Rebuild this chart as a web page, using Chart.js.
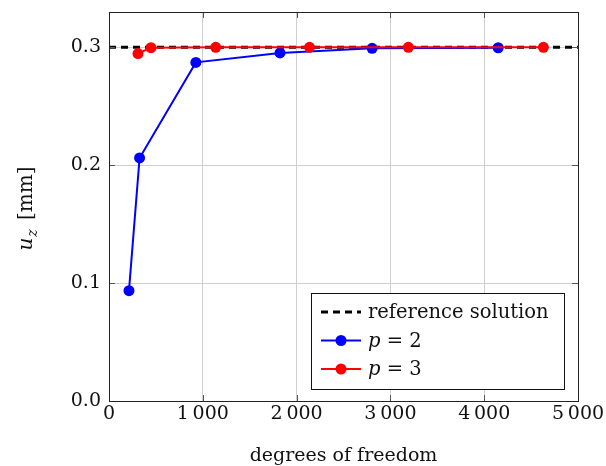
<!DOCTYPE html>
<html>
<head>
<meta charset="utf-8">
<script src="https://cdn.jsdelivr.net/npm/chart.js@4/dist/chart.umd.min.js"></script>
<style>
  html, body { margin: 0; padding: 0; background: #fff; }
  canvas { display: block; }
</style>
</head>
<body>
<canvas id="myChart" width="606" height="466"></canvas>
<script>
// data
var dofP2 = [213, 326, 926, 1823, 2805, 4149];
var uzP2  = [0.0935, 0.206, 0.287, 0.295, 0.2989, 0.2994];
var dofP3 = [309, 447, 1138, 2138, 3191, 4631];
var uzP3  = [0.2945, 0.2995, 0.2998, 0.2998, 0.2998, 0.2998];
var refX  = [0, 5000];
var refY  = [0.2998, 0.2998];

var xTicks = [0, 1000, 2000, 3000, 4000, 5000];
var yTicks = [0, 0.1, 0.2, 0.3];
var seriesLabels = ['reference solution', 'p = 2', 'p = 3'];

var serif = '"DejaVu Serif", serif';

function toPoints(xs, ys) {
  return xs.map(function (x, i) { return { x: x, y: ys[i] }; });
}

// splits "p = 2" so the variable can be set in italics
function labelParts(s) {
  var m = s.match(/^([a-z]) (=.*)$/);
  if (m) return [{ t: m[1], it: true }, { t: ' ' + m[2] }];
  return [{ t: s }];
}

function drawParts(ctx, parts, x, y, size) {
  parts.forEach(function (p) {
    ctx.font = (p.it ? 'italic ' : '') + size + 'px ' + serif;
    ctx.fillText(p.t, x, y);
    x += ctx.measureText(p.t).width;
  });
}

// frame, inner tick marks, axis titles
var framePlugin = {
  id: 'frame',
  afterDatasetsDraw: function (chart) {
    var ctx = chart.ctx, a = chart.chartArea;
    var xs = chart.scales.x, ys = chart.scales.y;
    ctx.save();
    ctx.strokeStyle = '#555';
    ctx.lineWidth = 1;
    ctx.beginPath();
    xTicks.forEach(function (v) {
      var px = Math.round(xs.getPixelForValue(v)) + 0.5;
      ctx.moveTo(px, a.bottom); ctx.lineTo(px, a.bottom - 6);
      ctx.moveTo(px, a.top); ctx.lineTo(px, a.top + 6);
    });
    yTicks.forEach(function (v) {
      var py = Math.round(ys.getPixelForValue(v)) + 0.5;
      ctx.moveTo(a.left, py); ctx.lineTo(a.left + 6, py);
      ctx.moveTo(a.right, py); ctx.lineTo(a.right - 6, py);
    });
    ctx.stroke();
    ctx.strokeStyle = '#222';
    ctx.strokeRect(Math.round(a.left) + 0.5, Math.round(a.top) + 0.5,
                   Math.round(a.right - a.left), Math.round(a.bottom - a.top));
    ctx.restore();
  },
  afterDraw: function (chart) {
    var ctx = chart.ctx, a = chart.chartArea;
    ctx.save();
    ctx.fillStyle = '#111';
    ctx.textBaseline = 'alphabetic';
    // x title
    ctx.font = '19px ' + serif;
    ctx.textAlign = 'center';
    ctx.fillText('degrees of freedom', (a.left + a.right) / 2, 461);
    // y title  u_z [mm]
    ctx.translate(32, (a.top + a.bottom) / 2 + 2);
    ctx.rotate(-Math.PI / 2);
    ctx.textAlign = 'left';
    ctx.font = 'italic 20px ' + serif;
    var w1 = ctx.measureText('u').width;
    ctx.font = 'italic 14px ' + serif;
    var w2 = ctx.measureText('z').width;
    ctx.font = '20px ' + serif;
    var w3 = ctx.measureText(' [mm]').width;
    var x0 = -(w1 + w2 + w3 + 4) / 2;
    ctx.font = 'italic 20px ' + serif;
    ctx.fillText('u', x0, 0);
    ctx.font = 'italic 14px ' + serif;
    ctx.fillText('z', x0 + w1 + 1, 5);
    ctx.font = '20px ' + serif;
    ctx.fillText(' [mm]', x0 + w1 + w2 + 4, 0);
    ctx.restore();
  }
};

// legend box in the lower right corner of the plot
var legendPlugin = {
  id: 'boxLegend',
  afterDraw: function (chart) {
    var ctx = chart.ctx, a = chart.chartArea;
    var right = a.right - 14, bottom = a.bottom - 12;
    var w = 253, h = 96;
    var left = right - w, top = bottom - h;
    ctx.save();
    ctx.fillStyle = '#fff';
    ctx.fillRect(left, top, w, h);
    ctx.strokeStyle = '#111';
    ctx.lineWidth = 1;
    ctx.strokeRect(Math.round(left) + 0.5, Math.round(top) + 0.5, w, h);
    chart.data.datasets.forEach(function (ds, i) {
      var cy = top + 19 + i * 28.5;
      var x1 = left + 10, x2 = left + 50;
      ctx.strokeStyle = ds.borderColor;
      ctx.lineWidth = ds.borderWidth;
      ctx.setLineDash(ds.borderDash || []);
      ctx.beginPath();
      ctx.moveTo(x1, cy); ctx.lineTo(x2, cy);
      ctx.stroke();
      ctx.setLineDash([]);
      if (ds.pointRadius > 0) {
        ctx.fillStyle = ds.pointBackgroundColor;
        ctx.beginPath();
        ctx.arc((x1 + x2) / 2, cy, ds.pointRadius, 0, Math.PI * 2);
        ctx.fill();
      }
      ctx.fillStyle = '#111';
      ctx.textBaseline = 'middle';
      drawParts(ctx, labelParts(ds.label), left + 57, cy + 1, 19.5);
    });
    ctx.restore();
  }
};

var ctx = document.getElementById('myChart').getContext('2d');
var chart = new Chart(ctx, {
  type: 'line',
  data: {
    datasets: [{
      label: seriesLabels[0],
      data: toPoints(refX, refY),
      borderColor: '#000',
      borderWidth: 3,
      borderDash: [7, 5],
      pointRadius: 0,
      order: 3
    }, {
      label: seriesLabels[1],
      data: toPoints(dofP2, uzP2),
      borderColor: '#0000ff',
      borderWidth: 2,
      pointRadius: 5.5,
      pointBackgroundColor: '#0000ff',
      pointBorderWidth: 0,
      order: 2
    }, {
      label: seriesLabels[2],
      data: toPoints(dofP3, uzP3),
      borderColor: '#ff0000',
      borderWidth: 2,
      pointRadius: 5.5,
      pointBackgroundColor: '#ff0000',
      pointBorderWidth: 0,
      order: 1
    }]
  },
  options: {
    responsive: false,
    animation: false,
    layout: { padding: { top: 12, right: 28, left: 0, bottom: 0 } },
    plugins: { legend: { display: false }, tooltip: { enabled: false } },
    elements: { line: { tension: 0 } },
    scales: {
      x: {
        type: 'linear',
        min: 0, max: 5000,
        afterBuildTicks: function (s) { s.ticks = xTicks.map(function (v) { return { value: v }; }); },
        afterFit: function (s) { s.height = 65; s.paddingLeft = 0; s.paddingRight = 0; },
        grid: { color: '#cfcfcf', drawTicks: false },
        border: { display: false },
        ticks: {
          padding: 2,
          color: '#111',
          font: { family: serif, size: 19 },
          maxRotation: 0,
          callback: function (v) { return v >= 1000 ? String(v).replace(/(\d)(\d{3})$/, '$1\u2009$2') : String(v); }
        }
      },
      y: {
        type: 'linear',
        min: 0, max: 0.3297,
        afterBuildTicks: function (s) { s.ticks = yTicks.map(function (v) { return { value: v }; }); },
        afterFit: function (s) { s.width = 109; s.paddingTop = 0; s.paddingBottom = 0; },
        grid: { color: '#cfcfcf', drawTicks: false },
        border: { display: false },
        ticks: {
          padding: 8,
          color: '#111',
          font: { family: serif, size: 19 },
          callback: function (v) { return v.toFixed(1); }
        }
      }
    }
  },
  plugins: [framePlugin, legendPlugin]
});
</script>
</body>
</html>
